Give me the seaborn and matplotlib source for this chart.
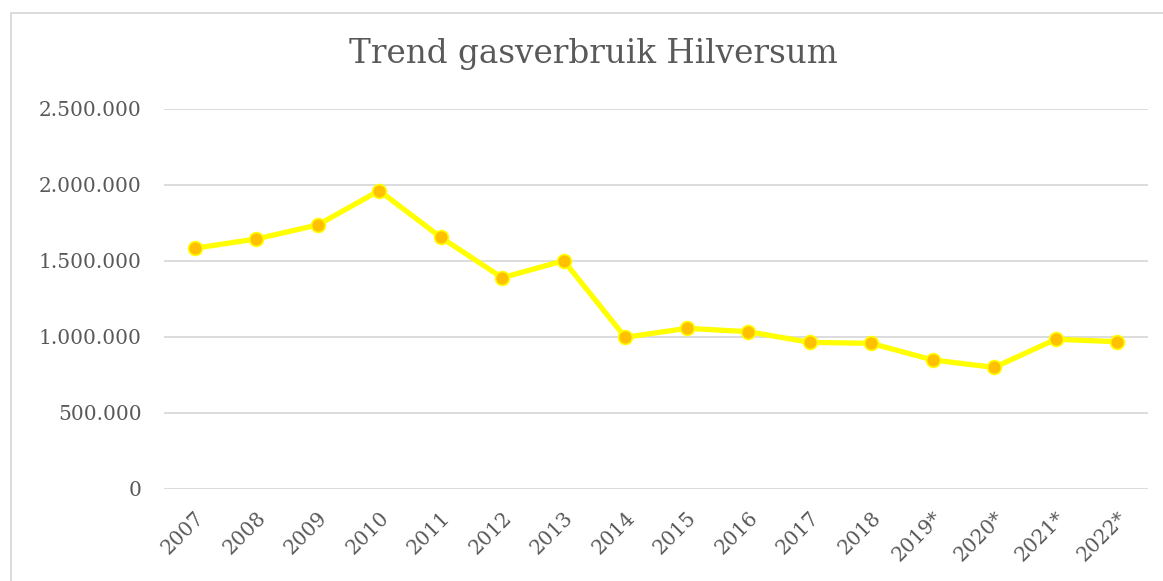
import pandas as pd
import matplotlib
matplotlib.use("Agg")
import matplotlib.pyplot as plt
import matplotlib.ticker as mticker
from matplotlib.patches import Rectangle
import seaborn as sns

# === Data ===
jaren = ["2007", "2008", "2009", "2010", "2011", "2012", "2013", "2014",
         "2015", "2016", "2017", "2018", "2019*", "2020*", "2021*", "2022*"]
verbruik = [1584000, 1645000, 1737000, 1963000, 1656000, 1390000, 1502000, 998000,
            1057000, 1035000, 965000, 958000, 849000, 800000, 985000, 969000]

df = pd.DataFrame({"jaar": jaren, "verbruik": verbruik})

# === Style ===
sns.set_theme(style="white")
plt.rcParams["font.family"] = ["DejaVu Serif"]
text_kleur = "#595959"

fig = plt.figure(figsize=(11.63, 5.81), dpi=100)
ax = fig.add_axes([164 / 1163, 1 - 489 / 581, (1148 - 164) / 1163, (489 - 109) / 581])

sns.lineplot(data=df, x="jaar", y="verbruik", ax=ax, color="#FFFF00", linewidth=3.8,
             marker="o", markersize=10, markerfacecolor="#FFC000",
             markeredgecolor="#FFFF00", markeredgewidth=1.2, sort=False)

ax.set_xlim(-0.5, len(jaren) - 0.5)
ax.set_ylim(0, 2500000)
ax.yaxis.set_major_locator(mticker.MultipleLocator(500000))
ax.yaxis.set_major_formatter(mticker.FuncFormatter(lambda v, p: f"{v:,.0f}".replace(",", ".")))
ax.grid(axis="y", color="#D9D9D9", linewidth=1.3)
ax.set_axisbelow(True)
for s in ax.spines.values():
    s.set_visible(False)

ax.set_xlabel("")
ax.set_ylabel("")
ax.tick_params(axis="both", length=0, colors=text_kleur)
ax.tick_params(axis="y", pad=16, labelsize=14.5)
ax.tick_params(axis="x", pad=14, labelsize=14.5)
plt.setp(ax.get_xticklabels(), rotation=45, ha="right", rotation_mode="anchor")

fig.text(593 / 1163, 1 - 54 / 581, "Trend gasverbruik Hilversum", ha="center", va="center",
         fontsize=23.5, color=text_kleur)

# chart border (Excel-style frame)
fig.patches.append(Rectangle((11 / 1163, -0.05), 1.05, 1 - 13 / 581 + 0.05,
                             transform=fig.transFigure, fill=False,
                             edgecolor="#D9D9D9", linewidth=1.3))

fig.savefig("out.png", dpi=100, facecolor="white")
